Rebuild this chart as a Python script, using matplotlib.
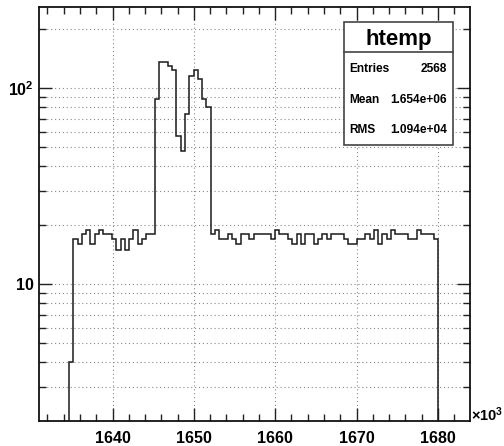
import numpy as np
import matplotlib
matplotlib.use("Agg")
import matplotlib.pyplot as plt
from matplotlib.patches import Rectangle
from matplotlib.lines import Line2D
import matplotlib.ticker as mticker

plt.rcParams['font.family'] = ['Liberation Sans', 'DejaVu Sans']
plt.rcParams['font.weight'] = 'bold'
plt.rcParams['mathtext.fontset'] = 'custom'
plt.rcParams['mathtext.rm'] = 'Liberation Sans:bold'
plt.rcParams['mathtext.bf'] = 'Liberation Sans:bold'

# histogram "htemp": bin contents, x in units of 10^3
x_lo = 1634.65
x_hi = 1680.05
counts_left = [4, 17, 16, 18, 19, 16, 18, 19, 18, 18, 17, 15, 17, 15, 17, 19, 16, 17, 18, 18]
counts_peak = [88, 136, 136, 130, 124, 57, 48, 74, 115, 124, 111, 88, 80]
counts_right = [18, 19, 17, 17, 18, 17, 16, 18, 18, 17, 18, 18, 18, 18, 17, 19, 18, 18,
                17, 16, 18, 16, 18, 18, 16, 17, 18, 17, 18, 18, 18, 17, 16, 16, 17, 17,
                18, 17, 19, 16, 18, 17, 19, 18, 18, 18, 17, 17, 19, 18, 18, 18, 17]
counts = np.array(counts_left + counts_peak + counts_right, dtype=float)
edges = np.linspace(x_lo, x_hi, len(counts) + 1)

x_ticks = [1640, 1650, 1660, 1670, 1680]
y_ticks = [10, 100]
y_labels = ['10', r'$\mathbf{10^{2}}$']
y_minor = [3, 4, 5, 6, 7, 8, 9, 20, 30, 40, 50, 60, 70, 80, 90, 200]
stats_title = "htemp"
stats_rows = [("Entries", "2568"), ("Mean", "1.654e+06"), ("RMS", "1.094e+04")]

W, H = 504, 446
fig = plt.figure(figsize=(W / 100, H / 100), dpi=100)
L, R, T, B = 39.3, 470.0, 7.3, 421.4
ax = fig.add_axes([L / W, 1 - B / H, (R - L) / W, (B - T) / H])


def px(x, y):
    # image pixel (from top-left) -> figure fraction
    return x / W, 1 - y / H


ax.stairs(counts, edges, baseline=1e-3, color='#1a1a1a', lw=1.1)

ax.set_yscale('log')
ax.set_xlim(1631.0, 1683.95)
ax.set_ylim(2.0, 258.8)

# ticks inside on all four sides
ax.xaxis.set_major_locator(mticker.FixedLocator(x_ticks))
ax.xaxis.set_minor_locator(mticker.MultipleLocator(2))
ax.set_xticklabels([str(v) for v in x_ticks])
ax.yaxis.set_major_locator(mticker.FixedLocator(y_ticks))
ax.yaxis.set_minor_locator(mticker.FixedLocator(y_minor))
ax.yaxis.set_major_formatter(mticker.FixedFormatter(y_labels))
ax.yaxis.set_minor_formatter(mticker.NullFormatter())
ax.tick_params(which='both', direction='in', top=True, right=True, width=1.0, color='#222222')
ax.tick_params(which='major', length=9.4, labelsize=11.5)
ax.tick_params(axis='x', which='major', pad=7)
ax.tick_params(axis='y', which='major', pad=4)
ax.tick_params(which='minor', length=5)

ax.grid(True, which='major', axis='x', color='#888888', lw=0.8, ls=(0, (1, 2.5)))
ax.grid(True, which='both', axis='y', color='#888888', lw=0.8, ls=(0, (1, 2.5)))
ax.set_axisbelow(True)
for sp in ax.spines.values():
    sp.set_linewidth(1.3)
    sp.set_color('#111111')

# x10^3 exponent at the end of the x axis
fig.text(*px(471.0, 421.5), '\u00d7' + r'$\mathbf{10^{3}}$', fontsize=10.5, ha='left', va='baseline')

# stats box
bx0, bx1, by0, by1, bsep = 344.3, 453.3, 21.7, 145.0, 52.3
fig.add_artist(Rectangle(px(bx0, by1), (bx1 - bx0) / W, (by1 - by0) / H,
                         transform=fig.transFigure, facecolor='white', edgecolor='#444444', lw=1.2, zorder=5))
fig.add_artist(Line2D([bx0 / W, bx1 / W], [1 - bsep / H, 1 - bsep / H],
                      transform=fig.transFigure, color='#444444', lw=1.2, zorder=6))
fig.text(*px((bx0 + bx1) / 2, 45.5), stats_title, fontsize=16, ha='center', va='baseline', zorder=7)
for (name, val), yb in zip(stats_rows, [71.7, 103.3, 133.3]):
    fig.text(*px(349.3, yb), name, fontsize=8.6, ha='left', va='baseline', zorder=7)
    fig.text(*px(446.7, yb), val, fontsize=8.6, ha='right', va='baseline', zorder=7)

fig.savefig('out.png', dpi=100)
